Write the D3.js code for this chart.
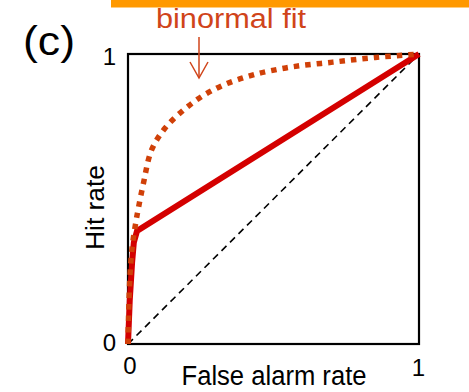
<!DOCTYPE html>
<html>
<head>
<meta charset="utf-8">
<script src="https://cdn.jsdelivr.net/npm/d3@7"></script>
<style>
  html, body { margin: 0; padding: 0; background: #fff; }
  svg { display: block; }
  text { font-family: "Liberation Sans", Arial, Helvetica, sans-serif; }
</style>
</head>
<body>
<div id="chart"></div>
<script>
// Empirical ROC (solid) as [false alarm rate, hit rate] pairs
const empiricalROC = [[0, 0], [0.006, 0.15], [0.014, 0.28], [0.02, 0.35], [0.031, 0.39], [1, 1]];
// Binormal fit curve (dotted)
const binormalFit = [
  [0, 0], [0.002, 0.1], [0.007, 0.24], [0.015, 0.34], [0.027, 0.42], [0.036, 0.47],
  [0.053, 0.554], [0.081, 0.669], [0.127, 0.744], [0.184, 0.801], [0.253, 0.853],
  [0.328, 0.893], [0.43, 0.928], [0.56, 0.955], [0.704, 0.972], [0.85, 0.988], [1, 1]
];
// Chance line
const chanceLine = [[0, 0], [1, 1]];
const tickValues = [0, 1];
const tickLabels = ["0", "1"];
const panelLabel = "(c)";
const fitLabel = "binormal fit";
const xTitle = "False alarm rate";
const yTitle = "Hit rate";

const W = 469, H = 392;
const svg = d3.select("#chart").append("svg").attr("width", W).attr("height", H);

const x = d3.scaleLinear().domain([0, 1]).range([128, 419]);
const y = d3.scaleLinear().domain([0, 1]).range([344, 54]);

// header bar
svg.append("rect").attr("x", 111).attr("y", 0).attr("width", W - 111).attr("height", 7.5)
  .attr("fill", "#ff9900");

// panel letter
svg.append("text").attr("x", 23).attr("y", 55).attr("font-size", 40)
  .attr("textLength", 52).attr("lengthAdjust", "spacingAndGlyphs")
  .attr("fill", "#000").text(panelLabel);

// frame
svg.append("rect")
  .attr("x", x(0)).attr("y", y(1))
  .attr("width", x(1) - x(0)).attr("height", y(0) - y(1))
  .attr("fill", "none").attr("stroke", "#000").attr("stroke-width", 2.2);

const line = d3.line().x(d => x(d[0])).y(d => y(d[1]));

// chance diagonal
svg.append("path").datum(chanceLine).attr("d", line)
  .attr("fill", "none").attr("stroke", "#000").attr("stroke-width", 1.6)
  .attr("stroke-dasharray", "7,5");

// empirical ROC
svg.append("path").datum(empiricalROC).attr("d", line)
  .attr("fill", "none").attr("stroke", "#d40000").attr("stroke-width", 6)
  .attr("stroke-linejoin", "miter");

// binormal fit
const fitLine = d3.line().x(d => x(d[0])).y(d => y(d[1])).curve(d3.curveCatmullRom.alpha(0.5));
svg.append("path").datum(binormalFit).attr("d", fitLine)
  .attr("fill", "none").attr("stroke", "#d04008").attr("stroke-width", 5.5)
  .attr("stroke-dasharray", "5.5,6");

// axes: tick labels only
const fmt = d => tickLabels[tickValues.indexOf(d)];
const yAxis = svg.append("g").attr("transform", `translate(${x(0)},0)`)
  .call(d3.axisLeft(y).tickValues(tickValues).tickFormat(fmt).tickSize(0).tickPadding(12));
yAxis.select(".domain").remove();
yAxis.selectAll("text").attr("font-size", 24).attr("font-family", null).attr("fill", "#000")
  .attr("dy", d => d === 1 ? "0.45em" : "0.25em");

const xAxis = svg.append("g").attr("transform", `translate(0,${y(0)})`)
  .call(d3.axisBottom(x).tickValues(tickValues).tickFormat(fmt).tickSize(0).tickPadding(13));
xAxis.select(".domain").remove();
xAxis.selectAll("text").attr("font-size", 24).attr("font-family", null).attr("fill", "#000")
  .attr("dx", d => d === 0 ? 1.5 : -1)
  .attr("dy", d => d === 1 ? "0.79em" : "0.71em");

// axis titles
svg.append("text").attr("x", 274).attr("y", 385).attr("text-anchor", "middle")
  .attr("font-size", 27).attr("textLength", 185).attr("lengthAdjust", "spacingAndGlyphs")
  .attr("fill", "#000").text(xTitle);

svg.append("text").attr("transform", "translate(103.5,207.5) rotate(-90)")
  .attr("text-anchor", "middle").attr("font-size", 26)
  .attr("textLength", 85).attr("lengthAdjust", "spacingAndGlyphs")
  .attr("fill", "#000").text(yTitle);

// fit annotation with arrow
svg.append("text").attr("x", 156).attr("y", 28).attr("font-size", 27)
  .attr("textLength", 150).attr("lengthAdjust", "spacingAndGlyphs")
  .attr("fill", "#d0441a").text(fitLabel);

const ax = 199;
svg.append("line").attr("x1", ax).attr("y1", 37).attr("x2", ax).attr("y2", 78)
  .attr("stroke", "#d0441a").attr("stroke-width", 1.5);
svg.append("path").attr("d", `M${ax - 9},62 L${ax},78 L${ax + 9},62`)
  .attr("fill", "none").attr("stroke", "#d0441a").attr("stroke-width", 1.5);
</script>
</body>
</html>
